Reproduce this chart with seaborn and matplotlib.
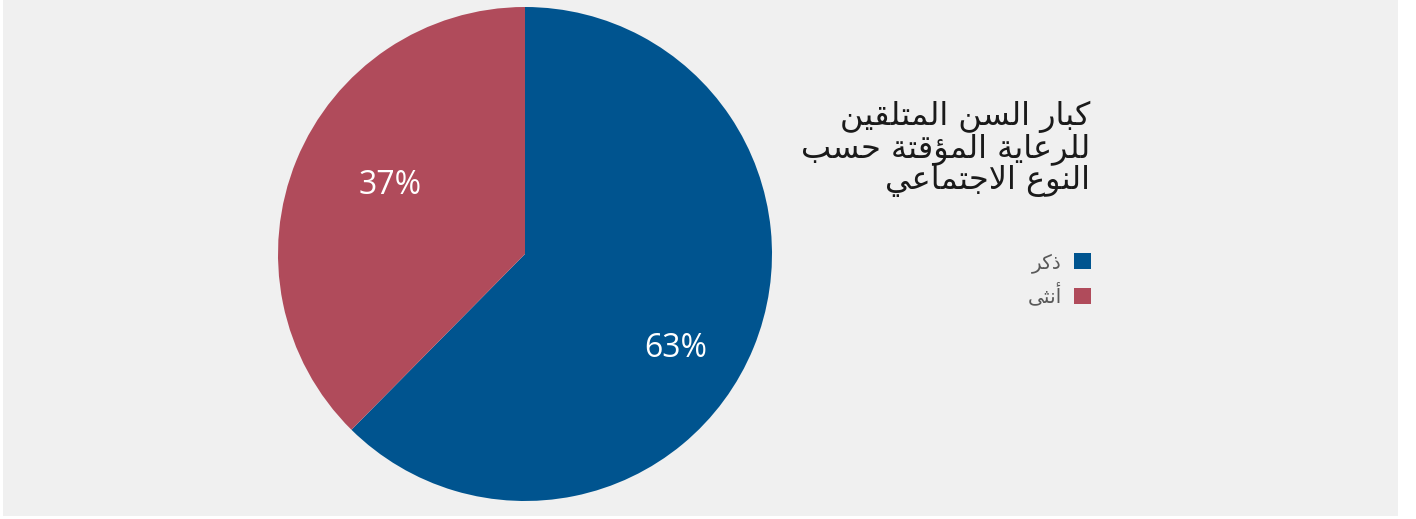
import matplotlib.pyplot as plt
from matplotlib.patches import Rectangle, Patch
import seaborn as sns

# Chart data
labels = ['ذكر', 'أنثى']
values = [62.4, 37.6]
pct_labels = ['63%', '37%']
colors = ['#00548F', '#B04B5B']
title_lines = ['كبار السن المتلقين', 'للرعاية المؤقتة حسب', 'النوع الاجتماعي']

# Arabic presentation forms (matplotlib does no shaping): first code point, number of forms
ARABIC_FORMS = {
    'ء': (0xFE80, 1), 'آ': (0xFE81, 2), 'أ': (0xFE83, 2), 'ؤ': (0xFE85, 2),
    'إ': (0xFE87, 2), 'ئ': (0xFE89, 4), 'ا': (0xFE8D, 2), 'ب': (0xFE8F, 4),
    'ة': (0xFE93, 2), 'ت': (0xFE95, 4), 'ث': (0xFE99, 4), 'ج': (0xFE9D, 4),
    'ح': (0xFEA1, 4), 'خ': (0xFEA5, 4), 'د': (0xFEA9, 2), 'ذ': (0xFEAB, 2),
    'ر': (0xFEAD, 2), 'ز': (0xFEAF, 2), 'س': (0xFEB1, 4), 'ش': (0xFEB5, 4),
    'ص': (0xFEB9, 4), 'ض': (0xFEBD, 4), 'ط': (0xFEC1, 4), 'ظ': (0xFEC5, 4),
    'ع': (0xFEC9, 4), 'غ': (0xFECD, 4), 'ف': (0xFED1, 4), 'ق': (0xFED5, 4),
    'ك': (0xFED9, 4), 'ل': (0xFEDD, 4), 'م': (0xFEE1, 4), 'ن': (0xFEE5, 4),
    'ه': (0xFEE9, 4), 'و': (0xFEED, 2), 'ى': (0xFEEF, 2), 'ي': (0xFEF1, 4),
}
LAM_ALEF = {'آ': 0xFEF5, 'أ': 0xFEF7, 'إ': 0xFEF9, 'ا': 0xFEFB}


def shape(text):
    tokens = []
    i = 0
    while i < len(text):
        c = text[i]
        if c == 'ل' and i + 1 < len(text) and text[i + 1] in LAM_ALEF:
            tokens.append(('LA', text[i + 1]))
            i += 2
        else:
            tokens.append((c, None))
            i += 1

    def joins_next(tok):
        return tok[0] != 'LA' and ARABIC_FORMS.get(tok[0], (0, 0))[1] == 4

    def joins(tok):
        return tok[0] == 'LA' or ARABIC_FORMS.get(tok[0], (0, 0))[1] > 1

    res = []
    for k, tok in enumerate(tokens):
        prev_j = k > 0 and joins_next(tokens[k - 1]) and joins(tok)
        next_j = k + 1 < len(tokens) and joins_next(tok) and joins(tokens[k + 1])
        c, a = tok
        if c == 'LA':
            res.append(chr(LAM_ALEF[a] + int(prev_j)))
        elif c in ARABIC_FORMS:
            base, n = ARABIC_FORMS[c]
            if n == 4:
                idx = [[0, 2], [1, 3]][int(prev_j)][int(next_j)]
            elif n == 2:
                idx = int(prev_j)
            else:
                idx = 0
            res.append(chr(base + idx))
        else:
            res.append(c)
    return ''.join(reversed(res))


sns.set_theme(style='white')
plt.rcParams['font.family'] = ['DejaVu Sans']

W, H = 1416, 519
fig = plt.figure(figsize=(W / 100, H / 100), dpi=100)
fig.patch.set_facecolor('white')
fig.patches.append(Rectangle((3 / W, 3 / H), 1395 / W, 516 / H, transform=fig.transFigure,
                             facecolor='#f0f0f0', edgecolor='none', zorder=-10))

# Pie
cx, cy, r = 525, 254, 247
ax = fig.add_axes([(cx - r) / W, (H - cy - r) / H, 2 * r / W, 2 * r / H])
wedges, texts, autotexts = ax.pie(
    values, colors=colors, startangle=90, counterclock=False,
    autopct='%.0f%%', pctdistance=0.66,
    wedgeprops=dict(linewidth=0, edgecolor='none'),
    textprops=dict(color='white', fontsize=23, family=['Open Sans', 'DejaVu Sans']),
)
# label text and placement as in the original
for t, s, xy in zip(autotexts, pct_labels, [(0.611, -0.381), (-0.547, 0.279)]):
    t.set_text(s)
    t.set_position(xy)
ax.set_xlim(-1, 1)
ax.set_ylim(-1, 1)

# Title
fig.text(1090 / W, 1 - 101 / H, '\n'.join(shape(l) for l in title_lines),
         ha='right', va='top', ma='right', fontsize=23, linespacing=1.0, color='#1a1a1a')

# Legend
handles = [Patch(facecolor=c, edgecolor='none', label=shape(l)) for l, c in zip(labels, colors)]
fig.legend(handles=handles, loc='upper right', bbox_to_anchor=(1091 / W, 1 - 253 / H),
           markerfirst=False, frameon=False, fontsize=14.5, labelcolor='#595959',
           handlelength=0.85, handleheight=0.85, handletextpad=0.6, labelspacing=0.5,
           borderaxespad=0, borderpad=0)

fig.savefig('out.png', dpi=100)
